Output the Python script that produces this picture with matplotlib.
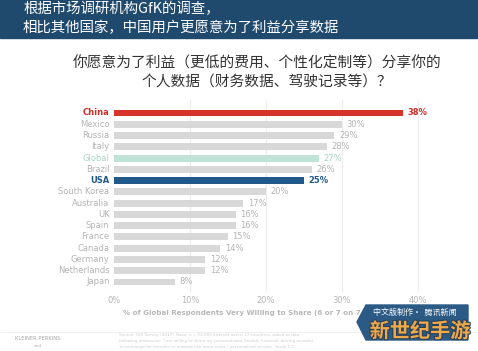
import matplotlib.pyplot as plt
import matplotlib.patheffects as pe
from matplotlib.patches import Rectangle, Polygon

plt.rcParams['font.family'] = ['Noto Sans CJK SC', 'DejaVu Sans']

# data
countries = ["China", "Mexico", "Russia", "Italy", "Global", "Brazil", "USA",
             "South Korea", "Australia", "UK", "Spain", "France", "Canada",
             "Germany", "Netherlands", "Japan"]
values = [38, 30, 29, 28, 27, 26, 25, 20, 17, 16, 16, 15, 14, 12, 12, 8]
xticks = [0, 10, 20, 30, 40]

header = ["根据市场调研机构GfK的调查，", "相比其他国家，中国用户更愿意为了利益分享数据"]
question = ["你愿意为了利益（更低的费用、个性化定制等）分享你的",
            "个人数据（财务数据、驾驶记录等）？"]
xlabel = "% of Global Respondents Very Willing to Share (6 or 7 on 7"

W, H = 478, 351
fig = plt.figure(figsize=(W / 100, H / 100), dpi=100)
fig.patch.set_facecolor("white")

def fx(px):
    return px / W

def fy(py):
    return 1 - py / H

# header band
fig.patches.append(Rectangle((0, fy(38)), 1, 38 / H, transform=fig.transFigure,
                             color="#1f4a6d", zorder=0))
fig.text(fx(23), fy(9), header[0], color="white", fontsize=10.4, va="center")
fig.text(fx(23), fy(28), header[1], color="white", fontsize=10.4, va="center")

fig.text(fx(257), fy(63), question[0], color="#333333", fontsize=10.6,
         va="center", ha="center")
fig.text(fx(267), fy(83), question[1], color="#333333", fontsize=10.6,
         va="center", ha="center")

# chart
step = 7.6
x0, ytop, ybot = 114, 100, 292
xmax = 47
ax = fig.add_axes([fx(x0), fy(ybot), xmax * step / W, (ybot - ytop) / H])
n = len(countries)
first, last = 113, 282
pitch = (last - first) / (n - 1)
ax.set_ylim(n - 1 + (ybot - last) / pitch, -(first - ytop) / pitch)
ax.set_xlim(0, xmax)

colors = []
txtcol = []
weights = []
for c in countries:
    if c == "China":
        colors.append("#d8332a"); txtcol.append("#c9302a"); weights.append("bold")
    elif c == "USA":
        colors.append("#215a8a"); txtcol.append("#215a8a"); weights.append("bold")
    elif c == "Global":
        colors.append("#bfe3d6"); txtcol.append("#a9d5c6"); weights.append("normal")
    else:
        colors.append("#d8d8d8"); txtcol.append("#b4b4b4"); weights.append("normal")

ypos = list(range(n))
for xv in [10, 20, 30, 40]:
    ax.axvline(xv, color="#ececec", lw=0.8, zorder=0)
ax.barh(ypos, values, height=0.62, color=colors, zorder=2)

for i, (v, c, w) in enumerate(zip(values, txtcol, weights)):
    ax.text(v + 0.6, i, f"{v}%", color=c, fontsize=6, fontweight=w,
            va="center", ha="left", family="DejaVu Sans")
    ax.text(-0.6, i, countries[i], color=c, fontsize=6, fontweight=w,
            va="center", ha="right", family="DejaVu Sans")

ax.set_xticks(xticks)
ax.set_xticklabels([f"{t}%" for t in xticks], fontsize=6, color="#b4b4b4",
                   family="DejaVu Sans")
ax.set_yticks([])
ax.tick_params(axis="x", length=0, pad=3)
for s in ax.spines.values():
    s.set_visible(False)
ax.patch.set_alpha(0)

fig.text(fx(123), fy(313), xlabel, color="#b8b8b8", fontsize=5.1,
         ha="left", va="center", fontweight="bold", family="DejaVu Sans")

# footer
fig.lines.append(plt.Line2D([0, 1], [fy(332), fy(332)], transform=fig.transFigure,
                            color="#eeeeee", lw=0.6))
fig.text(fx(38), fy(339), "KLEINER PERKINS", color="#a8a8a8", fontsize=3.8,
         ha="center", va="center", family="DejaVu Sans")
fig.text(fx(38), fy(346), "and", color="#b8b8b8", fontsize=3.2,
         ha="center", va="center", family="DejaVu Sans")
src = ["Source: GfK Survey (2017). Base: n = 22,000 internet users, 17 countries, asked to rate",
       "following statement: 'I am willing to share my personal data (health, financial, driving records)",
       "'In exchange for benefits or rewards like lower costs / personalized service.' Scale 1-7."]
for k, s in enumerate(src):
    fig.text(fx(119), fy(335 + 6 * k), s, color="#cccccc", fontsize=3.0,
             ha="left", va="center", family="DejaVu Sans")

# watermark badge
badge = Polygon([(fx(357), fy(322)), (fx(366), fy(305)), (fx(468), fy(305)),
                 (fx(468), fy(340)), (fx(366), fy(340))], closed=True,
                transform=fig.transFigure, color="#2b5a84", zorder=3)
fig.patches.append(badge)
fig.text(fx(415), fy(312.5), "中文版制作·  腾讯新闻", color="white", fontsize=5.8,
         ha="center", va="center", zorder=4)
fig.text(fx(420), fy(331), "新世纪手游", color="#eda94a", fontsize=14.5,
         ha="center", va="center", fontweight="bold", zorder=5,
         path_effects=[pe.withStroke(linewidth=1.5, foreground="#2a3f55")])

fig.savefig("out.png", dpi=100)
